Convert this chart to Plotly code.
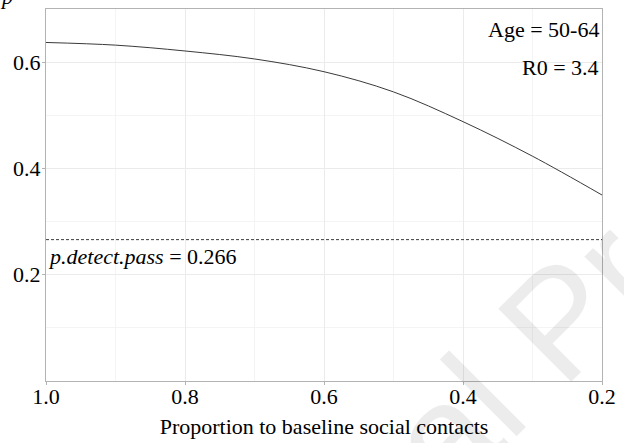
import plotly.graph_objects as go

# Proportion of baseline social contacts (x) and the resulting probability (y)
contact_prop = [1.0, 0.9, 0.8, 0.7, 0.6, 0.5, 0.4, 0.3, 0.2]
prob_values = [0.637, 0.632, 0.621, 0.606, 0.582, 0.544, 0.488, 0.423, 0.350]

p_detect_pass = 0.266
age_label = "Age = 50-64"
r0_label = "R0 = 3.4"

x_ticks = [1.0, 0.8, 0.6, 0.4, 0.2]
x_tick_text = ["1.0", "0.8", "0.6", "0.4", "0.2"]
x_minor = [0.9, 0.7, 0.5, 0.3]
y_ticks = [0.2, 0.4, 0.6]
y_tick_text = ["0.2", "0.4", "0.6"]
y_minor = [0.1, 0.3, 0.5]

FONT = "Liberation Serif, Times New Roman, serif"
BORDER = "#b3b3b3"
GRID = "#ebebeb"
GRID_MINOR = "#f4f4f4"

fig = go.Figure()

# Light diagonal watermark; translucent so black text stays readable through it
fig.add_annotation(
    x=0.922, y=0.16, xref="paper", yref="paper", text="Journal Pre-proof",
    showarrow=False, textangle=-45, xanchor="center", yanchor="middle",
    font=dict(family="Liberation Sans, Arial, sans-serif", size=150,
              color="rgba(0,0,0,0.075)"),
)

fig.add_trace(go.Scatter(
    x=contact_prop, y=prob_values, mode="lines",
    line=dict(color="#3a3a3a", width=1, shape="spline"),
    showlegend=False, hoverinfo="skip",
))

# Reference level for p.detect.pass
fig.add_trace(go.Scatter(
    x=[contact_prop[0], contact_prop[-1]], y=[p_detect_pass, p_detect_pass],
    mode="lines", line=dict(color="#3a3a3a", width=1, dash="3px,2px"),
    showlegend=False, hoverinfo="skip",
))

fig.add_annotation(
    x=contact_prop[0], y=p_detect_pass, xref="x", yref="y",
    text=f"<i>p.detect.pass</i> = {p_detect_pass}",
    showarrow=False, xanchor="left", yanchor="top", xshift=0, yshift=-2,
    font=dict(family=FONT, size=22, color="black"),
)

fig.add_annotation(
    x=1, y=1, xref="paper", yref="paper", text=age_label,
    showarrow=False, xanchor="right", yanchor="top", xshift=-1, yshift=-6,
    font=dict(family=FONT, size=22, color="black"),
)
fig.add_annotation(
    x=1, y=1, xref="paper", yref="paper", text=r0_label,
    showarrow=False, xanchor="right", yanchor="top", xshift=-1, yshift=-44,
    font=dict(family=FONT, size=22, color="black"),
)

# Partially visible heading letter at the top-left edge
fig.add_annotation(
    x=0, y=1, xref="paper", yref="paper", text="<i>p</i>",
    showarrow=False, xanchor="left", yanchor="bottom", xshift=-48, yshift=-2,
    font=dict(family=FONT, size=22, color="black"),
)

fig.update_xaxes(
    range=[1.0, 0.2], tickvals=x_ticks, ticktext=x_tick_text,
    showline=True, linecolor=BORDER, linewidth=1, mirror=True,
    ticks="outside", ticklen=3, tickcolor=BORDER, ticklabelstandoff=-7,
    showgrid=True, gridcolor=GRID, gridwidth=1, zeroline=False,
    minor=dict(tickvals=x_minor, showgrid=True, gridcolor=GRID_MINOR, gridwidth=1, ticks=""),
    tickfont=dict(family=FONT, size=22, color="black"),
    title=dict(text="Proportion to baseline social contacts",
               font=dict(family=FONT, size=22, color="black"), standoff=10),
)
fig.update_yaxes(
    range=[0.0, 0.70], tickvals=y_ticks, ticktext=y_tick_text,
    showline=True, linecolor=BORDER, linewidth=1, mirror=True,
    ticks="outside", ticklen=3, tickcolor=BORDER, ticklabelstandoff=-3,
    showgrid=True, gridcolor=GRID, gridwidth=1, zeroline=False,
    minor=dict(tickvals=y_minor, showgrid=True, gridcolor=GRID_MINOR, gridwidth=1, ticks=""),
    tickfont=dict(family=FONT, size=22, color="black"),
)

fig.update_layout(
    width=624, height=443,
    margin=dict(l=46, r=14, t=8, b=59),
    paper_bgcolor="white", plot_bgcolor="white",
    showlegend=False,
)

fig.write_html("out.html")
